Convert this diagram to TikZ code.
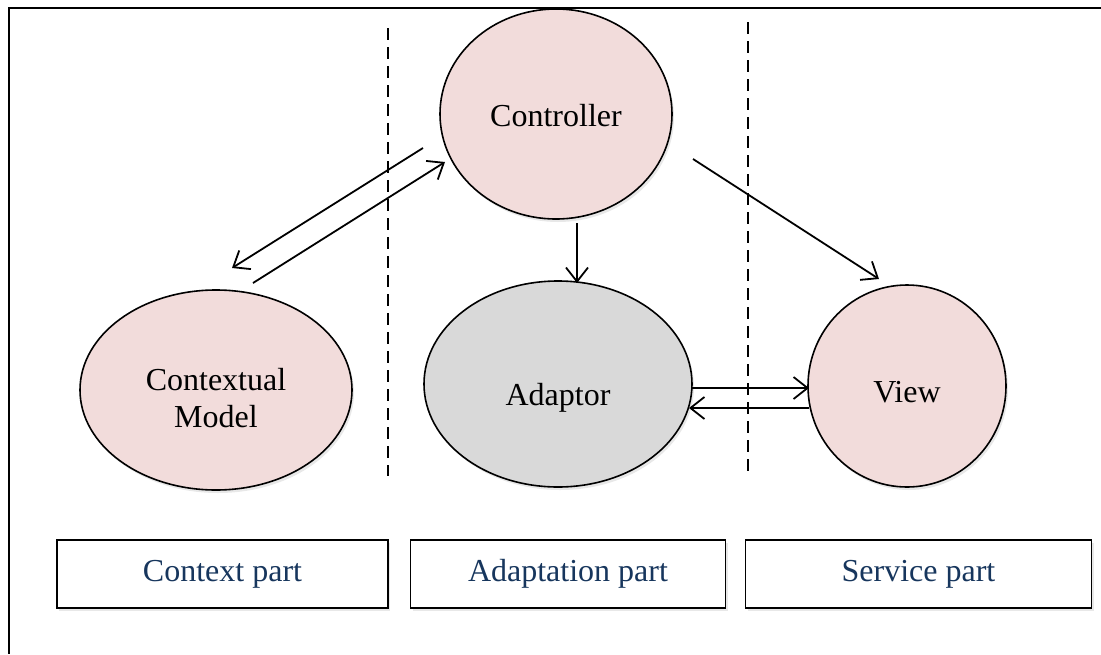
\documentclass[tikz,border=0pt]{standalone}
\usepackage{fontspec}
\setmainfont{Liberation Serif}
\usetikzlibrary{shapes.geometric,arrows.meta,shadows}
\definecolor{pinkfill}{HTML}{F2DCDB}
\definecolor{grayfill}{HTML}{D9D9D9}
\definecolor{navytext}{HTML}{17365D}
\tikzset{
  bubble/.style={ellipse, draw=black, line width=1.6pt, inner sep=0pt,
    drop shadow={opacity=0.18, shadow xshift=2pt, shadow yshift=-3pt}},
  bubbletext/.style={align=center, inner sep=0pt, text=black,
    font=\fontsize{32}{37}\selectfont},
  partbox/.style={rectangle, draw=black, line width=1.8pt, fill=white, inner sep=0pt,
    text=navytext, font=\fontsize{32}{37}\selectfont,
    drop shadow={opacity=0.18, shadow xshift=2pt, shadow yshift=-3pt}},
  arr/.style={line width=1.8pt, -{Straight Barb[length=14pt,width=22pt,line width=1.8pt]}},
  divider/.style={line width=1.8pt, dash pattern=on 12pt off 7pt},
  frame/.style={line width=2pt}
}
\begin{document}
\begin{tikzpicture}[x=1pt,y=-1pt]
\useasboundingbox (0,0) rectangle (1101,654);
% outer frame (top and left edges)
\coordinate (fA) at (1101,8);
\coordinate (fB) at (9,8);
\coordinate (fC) at (9,654);
\draw[frame] (fA) -- (fB) -- (fC);
% dividers
\coordinate (d1t) at (388,28);
\coordinate (d1b) at (388,476);
\coordinate (d2t) at (748,22);
\coordinate (d2b) at (748,472);
\draw[divider] (d1t) -- (d1b);
\draw[divider] (d2t) -- (d2b);
% ellipses
\node[bubble, fill=pinkfill, minimum width=232pt, minimum height=210pt,
  label={[bubbletext, yshift=-2pt]center:Controller}] (ctrl) at (556,114) {};
\node[bubble, fill=pinkfill, minimum width=272pt, minimum height=200pt,
  label={[bubbletext, yshift=-8pt]center:Contextual\\Model}] (ctx) at (216,390) {};
\node[bubble, fill=grayfill, minimum width=268pt, minimum height=206pt,
  label={[bubbletext, yshift=-14pt]center:Adaptor}] (adp) at (558,384) {};
\node[bubble, fill=pinkfill, minimum width=198pt, minimum height=202pt,
  label={[bubbletext, yshift=-6pt]center:View}] (view) at (907,386) {};
% part boxes
\node[partbox, minimum width=331pt, minimum height=68pt] (pctx) at (222.5,574) {Context part};
\node[partbox, minimum width=315pt, minimum height=68pt] (padp) at (568,574) {Adaptation part};
\node[partbox, minimum width=346pt, minimum height=68pt] (psrv) at (918.5,574) {Service part};
% connector end points
\coordinate (a1s) at (423,148);
\coordinate (a1e) at (232,268);
\coordinate (a2s) at (253,283);
\coordinate (a2e) at (445,162);
\coordinate (a3s) at (577,223);
\coordinate (a3e) at (577,283);
\coordinate (a4s) at (693,159);
\coordinate (a4e) at (879,279);
\coordinate (a5s) at (692,388);
\coordinate (a5e) at (809,388);
\coordinate (a6s) at (809,408);
\coordinate (a6e) at (689,408);
\draw[arr] (a1s) -- (a1e);
\draw[arr] (a2s) -- (a2e);
\draw[arr] (a3s) -- (a3e);
\draw[arr] (a4s) -- (a4e);
\draw[arr] (a5s) -- (a5e);
\draw[arr] (a6s) -- (a6e);
\end{tikzpicture}
\end{document}
